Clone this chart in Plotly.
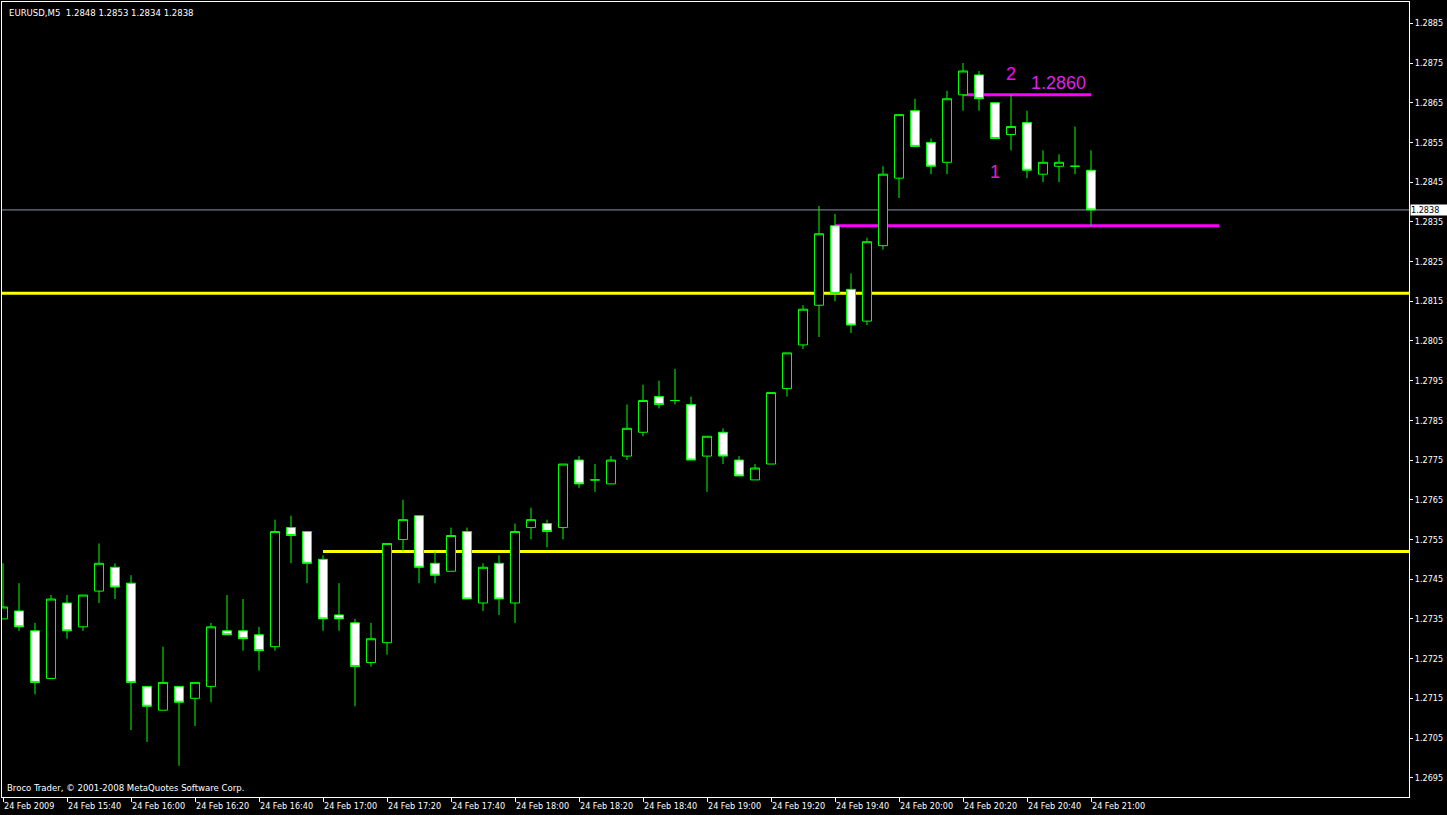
import plotly.graph_objects as go

# ---- data (EURUSD M5, 24 Feb 2009) ----
times = ["15:20", "15:25", "15:30", "15:35", "15:40", "15:45", "15:50", "15:55",
         "16:00", "16:05", "16:10", "16:15", "16:20", "16:25", "16:30", "16:35",
         "16:40", "16:45", "16:50", "16:55", "17:00", "17:05", "17:10", "17:15",
         "17:20", "17:25", "17:30", "17:35", "17:40", "17:45", "17:50", "17:55",
         "18:00", "18:05", "18:10", "18:15", "18:20", "18:25", "18:30", "18:35",
         "18:40", "18:45", "18:50", "18:55", "19:00", "19:05", "19:10", "19:15",
         "19:20", "19:25", "19:30", "19:35", "19:40", "19:45", "19:50", "19:55",
         "20:00", "20:05", "20:10", "20:15", "20:20", "20:25", "20:30", "20:35",
         "20:40", "20:45", "20:50", "20:55", "21:00"]

opens = [1.2735, 1.2737, 1.2732, 1.2720, 1.2739, 1.2733, 1.2742, 1.2748,
         1.2744, 1.2718, 1.2712, 1.2718, 1.2715, 1.2718, 1.2732, 1.2732,
         1.2731, 1.2728, 1.2758, 1.2757, 1.2750, 1.2736, 1.2734, 1.2724,
         1.2729, 1.2755, 1.2761, 1.2749, 1.2747, 1.2757, 1.2739, 1.2749,
         1.2739, 1.2758, 1.2759, 1.2758, 1.2775, 1.2770, 1.2769, 1.2776,
         1.2782, 1.2791, 1.2790, 1.2789, 1.2776, 1.2782, 1.2775, 1.2770,
         1.2774, 1.2793, 1.2804, 1.2814, 1.2834, 1.2818, 1.2810, 1.2829,
         1.2846, 1.2863, 1.2855, 1.2850, 1.2867, 1.2872, 1.2865, 1.2857,
         1.2860, 1.2847, 1.2849, 1.2849, 1.2848]

highs = [1.2749, 1.2744, 1.2734, 1.2741, 1.2741, 1.2741, 1.2754, 1.2749,
         1.2746, 1.2718, 1.2728, 1.2718, 1.2719, 1.2734, 1.2741, 1.2740,
         1.2733, 1.2760, 1.2761, 1.2757, 1.2751, 1.2744, 1.2735, 1.2734,
         1.2754, 1.2765, 1.2761, 1.2752, 1.2758, 1.2758, 1.2749, 1.2751,
         1.2759, 1.2763, 1.2760, 1.2774, 1.2776, 1.2774, 1.2776, 1.2789,
         1.2794, 1.2795, 1.2798, 1.2791, 1.2781, 1.2783, 1.2776, 1.2774,
         1.2792, 1.2802, 1.2814, 1.2839, 1.2837, 1.2822, 1.2831, 1.2849,
         1.2862, 1.2866, 1.2856, 1.2868, 1.2875, 1.2873, 1.2865, 1.2867,
         1.2863, 1.2853, 1.2852, 1.2859, 1.2853]

lows = [1.2735, 1.2732, 1.2716, 1.2720, 1.2730, 1.2732, 1.2739, 1.2740,
        1.2707, 1.2704, 1.2712, 1.2698, 1.2708, 1.2714, 1.2731, 1.2727,
        1.2722, 1.2727, 1.2749, 1.2744, 1.2732, 1.2732, 1.2713, 1.2723,
        1.2726, 1.2752, 1.2744, 1.2744, 1.2747, 1.2740, 1.2737, 1.2736,
        1.2734, 1.2755, 1.2753, 1.2755, 1.2768, 1.2767, 1.2769, 1.2775,
        1.2781, 1.2788, 1.2789, 1.2775, 1.2767, 1.2774, 1.2771, 1.2770,
        1.2774, 1.2791, 1.2803, 1.2806, 1.2815, 1.2807, 1.2809, 1.2828,
        1.2841, 1.2854, 1.2847, 1.2847, 1.2863, 1.2863, 1.2856, 1.2853,
        1.2846, 1.2845, 1.2845, 1.2847, 1.2834]

closes = [1.2738, 1.2733, 1.2719, 1.2740, 1.2732, 1.2741, 1.2749, 1.2743,
          1.2719, 1.2713, 1.2719, 1.2714, 1.2719, 1.2733, 1.2731, 1.2730,
          1.2727, 1.2757, 1.2756, 1.2749, 1.2735, 1.2735, 1.2723, 1.2730,
          1.2754, 1.2760, 1.2748, 1.2746, 1.2756, 1.2740, 1.2748, 1.2740,
          1.2757, 1.2760, 1.2757, 1.2774, 1.2769, 1.2770, 1.2775, 1.2783,
          1.2790, 1.2789, 1.2790, 1.2775, 1.2781, 1.2776, 1.2771, 1.2773,
          1.2792, 1.2802, 1.2813, 1.2832, 1.2817, 1.2809, 1.2830, 1.2847,
          1.2862, 1.2854, 1.2849, 1.2866, 1.2873, 1.2866, 1.2856, 1.2859,
          1.2848, 1.2850, 1.2850, 1.2849, 1.2838]

price_ticks = [1.2695, 1.2705, 1.2715, 1.2725, 1.2735, 1.2745, 1.2755, 1.2765,
               1.2775, 1.2785, 1.2795, 1.2805, 1.2815, 1.2825, 1.2835, 1.2845,
               1.2855, 1.2865, 1.2875, 1.2885]

date_label = "24 Feb 2009"
day_prefix = "24 Feb "

# horizontal levels drawn on chart
yellow_full_level = 1.2817
yellow_from_1700_level = 1.2752
magenta_low_level = 1.2834
magenta_high_level = 1.2867
bid_price = closes[-1]

# ---- build ----
idx = list(range(len(times)))
tick_idx = idx[::4]
tick_text = [date_label] + [day_prefix + times[i] for i in tick_idx[1:]]

FONT = "DejaVu Sans Condensed, Liberation Sans, Arial, sans-serif"
LIME = "#00ff00"

fig = go.Figure()
fig.add_trace(go.Candlestick(
    x=idx, open=opens, high=highs, low=lows, close=closes,
    increasing=dict(line=dict(color=LIME, width=1), fillcolor="black"),
    decreasing=dict(line=dict(color=LIME, width=1), fillcolor="white"),
    whiskerwidth=0, hoverinfo="skip", showlegend=False,
))

i1700 = times.index("17:00")
i1940 = times.index("19:40")
i2020 = times.index("20:20")
i2100 = times.index("21:00")
i2140 = i2100 + 8

shapes = [
    dict(type="line", xref="paper", x0=0, x1=1, yref="y",
         y0=yellow_full_level, y1=yellow_full_level,
         line=dict(color="#ffff00", width=3), layer="below"),
    dict(type="line", xref="x", x0=i1700, x1=200, yref="y",
         y0=yellow_from_1700_level, y1=yellow_from_1700_level,
         line=dict(color="#ffff00", width=3), layer="below"),
    dict(type="line", xref="x", x0=i1940, x1=i2140, yref="y",
         y0=magenta_low_level, y1=magenta_low_level,
         line=dict(color="#ff00ff", width=3), layer="below"),
    dict(type="line", xref="x", x0=i2020, x1=i2100, yref="y",
         y0=magenta_high_level, y1=magenta_high_level,
         line=dict(color="#ff00ff", width=3), layer="below"),
    dict(type="line", xref="paper", x0=0, x1=1, yref="y",
         y0=bid_price, y1=bid_price,
         line=dict(color="#8894a4", width=1), layer="below"),
]

header = "EURUSD,M5 \u00a0{:.4f} {:.4f} {:.4f} {:.4f}".format(
    opens[-1], highs[-1], lows[-1], closes[-1])

annotations = [
    dict(xref="paper", yref="paper", x=0, y=1, xanchor="left", yanchor="top",
         xshift=5, yshift=-3, text=header, showarrow=False,
         font=dict(family=FONT, size=9.5, color="white")),
    dict(xref="paper", yref="paper", x=0, y=0, xanchor="left", yanchor="bottom",
         xshift=3, yshift=2, text="Broco Trader, \u00a9 2001-2008 MetaQuotes Software Corp.",
         showarrow=False, font=dict(family=FONT, size=9.5, color="white")),
    dict(xref="paper", yref="y", x=1, y=bid_price, xanchor="left", yanchor="middle",
         xshift=1, text="{:.4f}".format(bid_price), showarrow=False,
         bgcolor="white", width=36, height=10, align="left", borderpad=0,
         font=dict(family=FONT, size=9, color="black")),
    dict(xref="x", yref="y", x=63, y=1.28722, text="2", showarrow=False,
         font=dict(family="Liberation Sans, Arial", size=18, color="#ff00ff")),
    dict(xref="x", yref="y", x=65.94, y=1.28700, text="1.2860", showarrow=False,
         font=dict(family="Liberation Sans, Arial", size=18, color="#dd22ee")),
    dict(xref="x", yref="y", x=62, y=1.28475, text="1", showarrow=False,
         font=dict(family="Liberation Sans, Arial", size=18, color="#e020d0")),
]

fig.update_layout(
    width=1447, height=815,
    margin=dict(l=2, r=38, t=2, b=18),
    paper_bgcolor="black", plot_bgcolor="black",
    showlegend=False, boxgap=0.4375, boxgroupgap=0,
    shapes=shapes, annotations=annotations,
    hovermode=False,
    xaxis=dict(
        range=[-0.0625, 87.875], tickvals=tick_idx, ticktext=tick_text,
        ticks="outside", ticklen=4, tickcolor="white", tickwidth=1,
        ticklabelposition="outside right",
        tickfont=dict(family=FONT, size=9, color="white"),
        showgrid=False, zeroline=False, showline=True, mirror=True,
        linecolor="white", linewidth=1, rangeslider=dict(visible=False),
    ),
    yaxis=dict(
        side="right", range=[1.269014, 1.289037],
        tickvals=price_ticks, ticktext=["{:.4f}".format(v) for v in price_ticks],
        ticks="outside", ticklen=3, tickcolor="white", tickwidth=1,
        tickfont=dict(family=FONT, size=9, color="white"),
        showgrid=False, zeroline=False, showline=True, mirror=True,
        linecolor="white", linewidth=1,
    ),
)

fig.write_html("out.html", config={"displayModeBar": False, "staticPlot": True},
               post_script="document.body.style.margin='0';document.body.style.overflow='hidden';")
